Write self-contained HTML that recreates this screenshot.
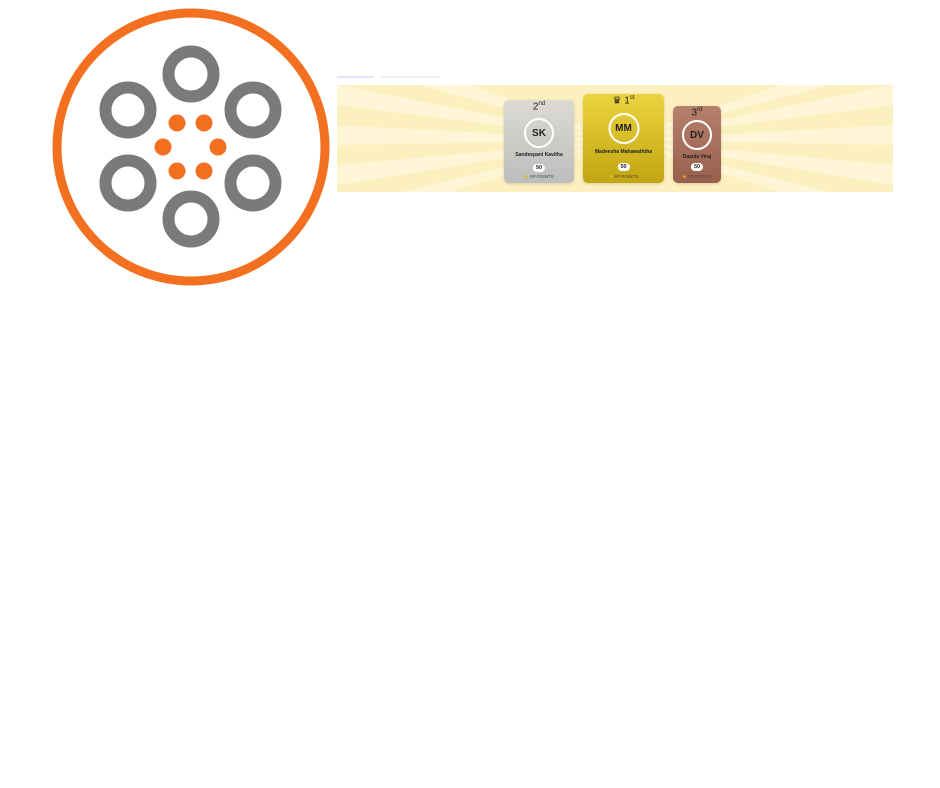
<!DOCTYPE html>
<html><head><style>
body{margin:0;width:940px;height:788px;background:#fff;position:relative;overflow:hidden;font-family:"Liberation Sans",sans-serif}
.card{position:absolute;border-radius:5px;text-align:center;color:#222;box-shadow:0 1px 3px rgba(0,0,0,.15)}
.rank{font-size:10px;margin-top:1px;height:12px}
.rank sup{font-size:6px}
.av{position:absolute;left:50%;transform:translateX(-50%);border:2px solid #fff;border-radius:50%;font-weight:bold;display:flex;align-items:center;justify-content:center;box-sizing:border-box}
.nm{position:absolute;left:0;right:0;font-size:5px;font-weight:bold}
.pt{position:absolute;left:50%;transform:translateX(-50%);background:#fff;border-radius:5px;font-size:5.5px;font-weight:bold;padding:1px 3px}
.xp{position:absolute;left:0;right:0;font-size:4.5px;color:#444}
.xp b{color:#e6b800}
</style></head><body>
<svg width="940" height="300" style="position:absolute;left:0;top:0">
<circle cx="191" cy="147" r="134" fill="none" stroke="#f37021" stroke-width="9"/>
<g fill="none" stroke="#7a7a7a" stroke-width="12">
<circle cx="191" cy="74" r="22.5"/><circle cx="128" cy="110" r="22.5"/><circle cx="253" cy="110" r="22.5"/>
<circle cx="128" cy="183" r="22.5"/><circle cx="253" cy="183" r="22.5"/><circle cx="191" cy="219" r="22.5"/>
</g>
<g fill="#f37021">
<circle cx="177" cy="123" r="8.5"/><circle cx="204" cy="123" r="8.5"/><circle cx="163" cy="147" r="8.5"/>
<circle cx="218" cy="147" r="8.5"/><circle cx="177" cy="171" r="8.5"/><circle cx="204" cy="171" r="8.5"/>
</g>
<rect x="337" y="76" width="37" height="2" fill="#e6e0ff"/>
<rect x="380" y="76" width="60" height="2" fill="#f2f2f4"/>
<defs><clipPath id="b"><rect x="337" y="85" width="556" height="107"/></clipPath></defs>
<rect x="337" y="85" width="556" height="107" fill="#fcf0bf"/>
<g clip-path="url(#b)" fill="#fff8de" opacity=".8">
<polygon points="620,140 337,85 337,105"/><polygon points="620,140 337,125 337,145"/>
<polygon points="620,140 337,165 337,185"/><polygon points="620,140 400,192 450,192"/>
<polygon points="620,140 420,85 470,85"/><polygon points="620,140 893,85 893,105"/>
<polygon points="620,140 893,125 893,145"/><polygon points="620,140 893,165 893,185"/>
<polygon points="620,140 780,192 830,192"/><polygon points="620,140 780,85 830,85"/>
</g>
</svg>
<div class="card" style="left:504px;top:100px;width:70px;height:83px;background:linear-gradient(#dcdad2,#bdbdbd)">
<div class="rank">2<sup>nd</sup></div>
<div class="av" style="top:18px;width:30px;height:30px;font-size:10px">SK</div>
<div class="nm" style="top:52px">Sandeepani Kavitha</div><div class="pt" style="top:64px">50</div><div class="xp" style="top:74px"><b>★</b> XP POINTS</div></div>
<div class="card" style="left:583px;top:94px;width:81px;height:89px;background:linear-gradient(#ecd440,#c2a512)">
<div class="rank">♛ 1<sup>st</sup></div>
<div class="av" style="top:19px;width:31px;height:31px;font-size:10px">MM</div>
<div class="nm" style="top:55px">Madeesha Mahawaththa</div><div class="pt" style="top:69px">50</div><div class="xp" style="top:80px"><b>★</b> XP POINTS</div></div>
<div class="card" style="left:673px;top:106px;width:48px;height:77px;background:linear-gradient(#b7806c,#98604c)">
<div class="rank">3<sup>rd</sup></div>
<div class="av" style="top:14px;width:30px;height:30px;font-size:10px">DV</div>
<div class="nm" style="top:48px">Dasula Viraj</div><div class="pt" style="top:57px">50</div><div class="xp" style="top:68px"><b>★</b> XP POINTS</div></div>
</body></html>
